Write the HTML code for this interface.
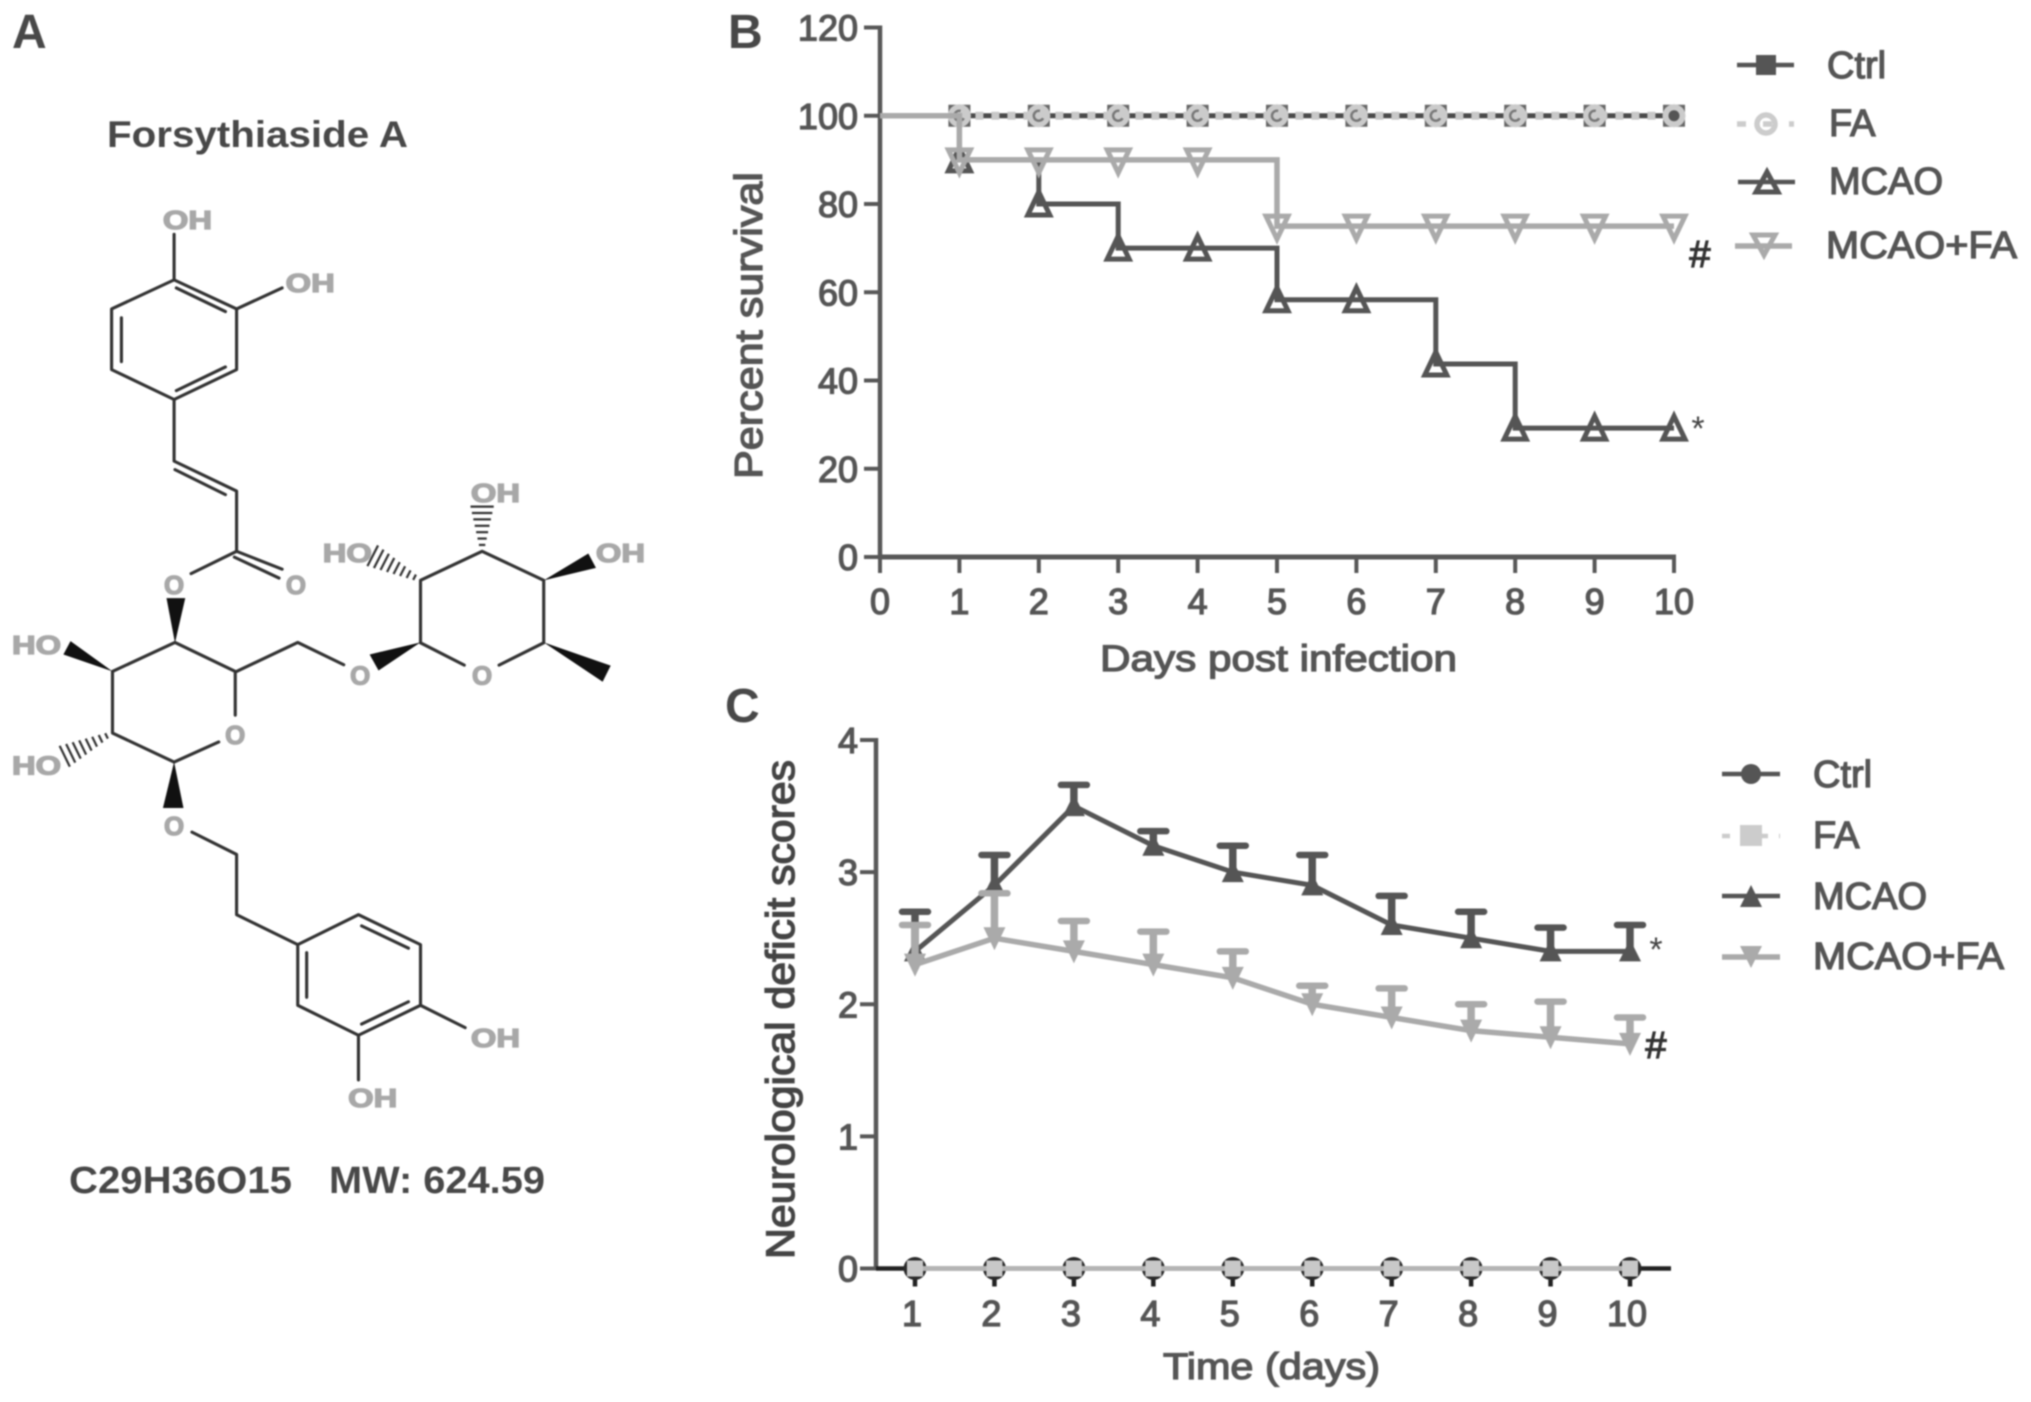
<!DOCTYPE html>
<html lang="en">
<head>
<meta charset="utf-8">
<title>Forsythiaside A figure</title>
<style>
html,body{margin:0;padding:0;background:#fff;}
svg{display:block;filter:blur(0.8px);}
text{font-family:"Liberation Sans",sans-serif;}
.heavy{font-weight:bold;fill:#484848;}
.mid{fill:#555;stroke:#555;stroke-width:1.3px;}
.atom{font-weight:bold;font-size:58px;fill:#a8a8a8;stroke:#a8a8a8;stroke-width:3px;text-anchor:middle;}
.bond{stroke:#333;stroke-width:7;fill:none;stroke-linecap:round;stroke-linejoin:round;}
.wedge{fill:#111;}
.sig{stroke:#333;stroke-width:1.2px;fill:#333;text-anchor:middle;}
.star{fill:#444;text-anchor:middle;}
</style>
</head>
<body>
<svg id="figure" xmlns="http://www.w3.org/2000/svg" width="2031" height="1402" viewBox="0 0 2031 1402">
<rect width="2031" height="1402" fill="#fff"/>
<text class="heavy" x="12" y="48" font-size="48">A</text>
<text class="heavy" x="728" y="48" font-size="48">B</text>
<text class="heavy" x="725" y="722" font-size="48">C</text>
<text class="heavy" x="107" y="147" font-size="37" textLength="301" lengthAdjust="spacingAndGlyphs">Forsythiaside A</text>
<text class="heavy" x="69" y="1193" font-size="38" textLength="223" lengthAdjust="spacingAndGlyphs">C29H36O15</text>
<text class="heavy" x="329" y="1193" font-size="38" textLength="216" lengthAdjust="spacingAndGlyphs">MW: 624.59</text>

<g id="mol-top" transform="scale(.4464)">
  <path class="bond" d="M390 627L530 692V828L390 895L250 828V692Z M272 712V810 M395 645L505 698 M395 875L505 822"/>
  <path class="bond" d="M390 627V525 M530 692L632 645"/>
  <path class="bond" d="M390 895V1033L530 1100V1235 M392 1052L505 1108 M530 1235L632 1275 M525 1248L625 1295 M530 1235L428 1285"/>
  <path class="bond" d="M1040 1490L942 1440V1300L1080 1235L1218 1300V1440L1118 1490"/>
  <polygon class="wedge" points="392,1440 373,1340 415,1340"/>
  <polygon class="wedge" points="1218,1300 1318,1240 1335,1272"/>
  <g id="hash-1"></g>
  <g id="hash-2"></g>
  <text class="atom" x="420" y="513" textLength="110" lengthAdjust="spacingAndGlyphs">OH</text>
  <text class="atom" x="695" y="654" textLength="110" lengthAdjust="spacingAndGlyphs">OH</text>
  <text class="atom" x="663" y="1331">O</text>
  <text class="atom" x="390" y="1331">O</text>
  <text class="atom" x="1110" y="1124" textLength="110" lengthAdjust="spacingAndGlyphs">OH</text>
  <text class="atom" x="778" y="1259" textLength="110" lengthAdjust="spacingAndGlyphs">HO</text>
  <text class="atom" x="1390" y="1259" textLength="110" lengthAdjust="spacingAndGlyphs">OH</text>
</g>
<g id="mol-bottom" transform="translate(0,600) scale(.4464)">
  <path class="bond" d="M527 258V160L392 95L252 160V298L390 363L490 318"/>
  <path class="bond" d="M530 160L667 95L770 145"/>
  <path class="bond" d="M430 520L530 570V705L667 772"/>
  <path class="bond" d="M667 772L803 705L942 772V908L803 975L667 908Z M687 790V890 M810 730L915 780 M810 950L915 900"/>
  <path class="bond" d="M942 908L1042 958 M803 975V1075"/>
  <polygon class="wedge" points="252,160 142,122 158,92"/>
  <polygon class="wedge" points="390,363 365,466 411,466"/>
  <polygon class="wedge" points="942,95 828,122 848,158"/>
  <polygon class="wedge" points="1218,95 1368,147 1350,183"/>
  <g id="hash-3"></g>
  <text class="atom" x="82" y="121" textLength="110" lengthAdjust="spacingAndGlyphs">HO</text>
  <text class="atom" x="807" y="189">O</text>
  <text class="atom" x="1080" y="189">O</text>
  <text class="atom" x="527" y="323">O</text>
  <text class="atom" x="82" y="391" textLength="110" lengthAdjust="spacingAndGlyphs">HO</text>
  <text class="atom" x="390" y="526">O</text>
  <text class="atom" x="1110" y="1001" textLength="110" lengthAdjust="spacingAndGlyphs">OH</text>
  <text class="atom" x="835" y="1136" textLength="110" lengthAdjust="spacingAndGlyphs">OH</text>
</g>

<g id="chart-b"></g>
<g id="chart-c"></g>

<text class="mid" x="1827" y="78" font-size="38">Ctrl</text>
<text class="mid" x="1829" y="136" font-size="38">FA</text>
<text class="mid" x="1829" y="194" font-size="38" textLength="114" lengthAdjust="spacingAndGlyphs">MCAO</text>
<text class="mid" x="1826" y="258" font-size="38" textLength="191" lengthAdjust="spacingAndGlyphs">MCAO+FA</text>
<text class="mid" x="1813" y="787" font-size="38">Ctrl</text>
<text class="mid" x="1813" y="848" font-size="38">FA</text>
<text class="mid" x="1813" y="909" font-size="38" textLength="114" lengthAdjust="spacingAndGlyphs">MCAO</text>
<text class="mid" x="1813" y="969" font-size="38" textLength="191" lengthAdjust="spacingAndGlyphs">MCAO+FA</text>

<g><line x1="1737" x2="1794" y1="65" y2="65" stroke="#555" stroke-width="4.5"/><rect x="1756" y="55" width="20" height="20" fill="#555"/></g>
<g><line x1="1737" x2="1794" y1="124" y2="124" stroke="#ccc" stroke-width="5.5" stroke-dasharray="9 17"/><circle cx="1766" cy="124" r="9" fill="none" stroke="#ccc" stroke-width="5.5"/></g>
<g><line x1="1738" x2="1795" y1="182" y2="182" stroke="#555" stroke-width="4.5"/><polygon points="1767,172 1756,192 1778,192" fill="none" stroke="#555" stroke-width="5"/></g>
<g><line x1="1735" x2="1792" y1="246" y2="246" stroke="#aaa" stroke-width="5.5"/><polygon points="1753,235 1775,235 1764,255" fill="none" stroke="#aaa" stroke-width="5"/></g>
<g><line x1="1722" x2="1780" y1="774" y2="774" stroke="#555" stroke-width="4.5"/><circle cx="1751" cy="774" r="10" fill="#555"/></g>
<g><line x1="1722" x2="1780" y1="836" y2="836" stroke="#ccc" stroke-width="4.5" stroke-dasharray="8 11"/><rect x="1740" y="825" width="22" height="21" fill="#ccc"/></g>
<g><line x1="1722" x2="1780" y1="896" y2="896" stroke="#555" stroke-width="4.5"/><polygon points="1751,885 1740,907 1762,907" fill="#555"/></g>
<g><line x1="1722" x2="1780" y1="957" y2="957" stroke="#aaa" stroke-width="5.5"/><polygon points="1740,946 1762,946 1751,968" fill="#aaa"/></g>

<text class="sig" x="1700" y="267" font-size="38">#</text>
<text class="star" x="1698" y="440" font-size="34">*</text>
<text class="star" x="1656" y="961" font-size="34">*</text>
<text class="sig" x="1656" y="1058" font-size="38">#</text>
</svg>

<script>
/* Panel B data */
const bDays = [0,1,2,3,4,5,6,7,8,9,10];
const bCtrl = [100,100,100,100,100,100,100,100,100,100,100];
const bFA = [100,100,100,100,100,100,100,100,100,100,100];
const bMCAO = [100,90,80,70,70,58.3,58.3,43.75,29.2,29.2,29.2];
const bMCAOFA = [100,90,90,90,90,75,75,75,75,75,75];
const bYTicks = [0,20,40,60,80,100,120];

/* Panel C data */
const cDays = [1,2,3,4,5,6,7,8,9,10];
const cCtrl = [0,0,0,0,0,0,0,0,0,0];
const cFA = [0,0,0,0,0,0,0,0,0,0];
const cMCAO = [2.4,2.9,3.5,3.2,3.0,2.9,2.6,2.5,2.4,2.4];
const cMCAOErr = [0.3,0.23,0.16,0.11,0.2,0.23,0.22,0.2,0.18,0.2];
const cMCAOFA = [2.3,2.5,2.4,2.3,2.2,2.0,1.9,1.8,1.75,1.7];
const cMCAOFAErr = [0.3,0.34,0.23,0.25,0.2,0.14,0.22,0.2,0.27,0.2];
const cYTicks = [0,1,2,3,4];

const NS = 'http://www.w3.org/2000/svg';
function el(tag, attrs, parent){
  const e = document.createElementNS(NS, tag);
  for (const k in attrs) e.setAttribute(k, attrs[k]);
  parent.appendChild(e);
  return e;
}

/* hashed stereo bonds */
function hash(id, x1, y1, x2, y2, n){
  const g = document.getElementById(id);
  const dx = x2-x1, dy = y2-y1, len = Math.hypot(dx,dy);
  for (let i=1;i<=n;i++){
    const t = i/n, w = 4 + t*22;
    const cx = x1+dx*t, cy = y1+dy*t;
    const ln = el('line',{x1:cx-dy/len*w,y1:cy+dx/len*w,x2:cx+dy/len*w,y2:cy-dx/len*w,stroke:'#333','stroke-width':5},g);
    
    
  }
}
hash('hash-1',1080,1235,1080,1135,7);
hash('hash-2',942,1300,835,1245,8);
hash('hash-3',252,298,145,350,8);

/* ---------- Panel B ---------- */
const bX = v => 880 + v*(1674-880)/10;
const bY = v => 557 - v*(557-27.5)/120;
const gB = document.getElementById('chart-b');
const AX = '#585858';

const bAxisY = el('line',{x1:bX(0),x2:bX(0),y1:bY(120)-2,y2:bY(0)+2,stroke:AX,'stroke-width':4.5},gB);


const bAxisX = el('line',{x1:bX(0),x2:bX(10)+2,y1:bY(0),y2:bY(0),stroke:AX,'stroke-width':5},gB);



bYTicks.forEach(v=>{
  const t = el('line',{x1:bX(0)-16,x2:bX(0),y1:bY(v),y2:bY(v),stroke:AX,'stroke-width':4},gB);
  
  
  const l = el('text',{x:858,y:bY(v)+13,'font-size':36,'text-anchor':'end',class:'mid'},gB);
  l.textContent = v;
  
  
});
bDays.forEach(v=>{
  const t = el('line',{x1:bX(v),x2:bX(v),y1:bY(0),y2:bY(0)+16,stroke:AX,'stroke-width':4},gB);
  
  
  const l = el('text',{x:bX(v),y:614,'font-size':36,'text-anchor':'middle',class:'mid'},gB);
  l.textContent = v;
  
  
});
const bXT = el('text',{x:1100,y:671,'font-size':37,textLength:357,lengthAdjust:'spacingAndGlyphs',class:'mid'},gB);
bXT.textContent = 'Days post infection';


const bYT = el('text',{x:0,y:0,'font-size':39,textLength:307,lengthAdjust:'spacingAndGlyphs',class:'mid',transform:'translate(762,479) rotate(-90)'},gB);
bYT.textContent = 'Percent survival';



function stepPath(vals, start){
  let d = 'M'+bX(bDays[start])+' '+bY(vals[start]);
  for (let i=start+1;i<vals.length;i++) d += 'H'+bX(bDays[i])+'V'+bY(vals[i]);
  return d;
}
const lineCtrl = el('path',{d:stepPath(bCtrl,1),fill:'none',stroke:'#4a4a4a','stroke-width':5},gB);


bDays.slice(1).forEach((d,i)=>{
  const m = el('rect',{x:bX(d)-11,y:bY(bCtrl[i+1])-11,width:22,height:22,fill:'#666'},gB);
  
  
});
const lineFA = el('path',{d:stepPath(bFA,1),fill:'none',stroke:'#c8c8c8','stroke-width':8,'stroke-dasharray':'8 8'},gB);


bDays.slice(1).forEach((d,i)=>{
  const y = bY(bFA[i+1]);
  const m = el('circle',{cx:bX(d),cy:y,r:11.5,fill:'#cbcbcb'},gB);
  
  
  const c = d===10
    ? el('circle',{cx:bX(d),cy:y,r:5.5,fill:'#555'},gB)
    : el('circle',{cx:bX(d),cy:y,r:5,fill:'none',stroke:'#777','stroke-width':2.5,'stroke-dasharray':'22 10',transform:'rotate(30 '+bX(d)+' '+y+')'},gB);
  
  
});
const lineMC = el('path',{d:stepPath(bMCAO,0),fill:'none',stroke:'#555','stroke-width':5},gB);


bDays.slice(1).forEach((d,i)=>{
  const x = bX(d), y = bY(bMCAO[i+1]);
  const m = el('polygon',{points:[x,y-12,x-11,y+11,x+11,y+11].join(' '),fill:'none',stroke:'#555','stroke-width':5},gB);
  
  
});
const lineMF = el('path',{d:stepPath(bMCAOFA,0),fill:'none',stroke:'#aaa','stroke-width':5.5},gB);


bDays.slice(1).forEach((d,i)=>{
  const x = bX(d), y = bY(bMCAOFA[i+1]);
  const m = el('polygon',{points:[x-11,y-10,x+11,y-10,x,y+13].join(' '),fill:'none',stroke:'#aaa','stroke-width':5},gB);
  
  
});

/* ---------- Panel C ---------- */
const cX = v => 915 + (v-1)*(1630-915)/9;
const cY = v => 1268.5 - v*(1268.5-740)/4;
const gC = document.getElementById('chart-c');

const cAxisY = el('line',{x1:876,x2:876,y1:cY(4)-2,y2:cY(0)+2,stroke:AX,'stroke-width':4.5},gC);


const cAxisX = el('line',{x1:876,x2:1671,y1:cY(0),y2:cY(0),stroke:'#222','stroke-width':4.5},gC);



cYTicks.forEach(v=>{
  const t = el('line',{x1:860,x2:876,y1:cY(v),y2:cY(v),stroke:AX,'stroke-width':4},gC);
  
  
  const l = el('text',{x:858,y:cY(v)+13,'font-size':36,'text-anchor':'end',class:'mid'},gC);
  l.textContent = v;
  
  
});
cDays.forEach(v=>{
  const t = el('line',{x1:cX(v),x2:cX(v),y1:cY(0),y2:cY(0)+18,stroke:'#222','stroke-width':4.5},gC);
  
  
  const l = el('text',{x:cX(v)-3,y:1326,'font-size':36,'text-anchor':'middle',class:'mid'},gC);
  l.textContent = v;
  
  
});
const cXT = el('text',{x:1163,y:1379,'font-size':37,textLength:217,lengthAdjust:'spacingAndGlyphs',class:'mid'},gC);
cXT.textContent = 'Time (days)';


const cYT = el('text',{x:0,y:0,'font-size':40,textLength:499,lengthAdjust:'spacingAndGlyphs',fill:'#444',stroke:'#444','stroke-width':1.3,transform:'translate(794,1259) rotate(-90)'},gC);
cYT.textContent = 'Neurological deficit scores';



function polyPts(vals){ return vals.map((v,i)=>cX(cDays[i])+','+cY(v)).join(' '); }

/* Ctrl */
const cLineCtrl = el('polyline',{points:polyPts(cCtrl),fill:'none',stroke:'#444','stroke-width':4.5},gC);


cDays.forEach((d,i)=>{
  const m = el('circle',{cx:cX(d),cy:cY(cCtrl[i]),r:11.5,fill:'#2a2a2a'},gC);
  
  
});
/* MCAO */
cDays.forEach((d,i)=>{
  const x=cX(d), top=cY(cMCAO[i]+cMCAOErr[i]);
  const v = el('line',{x1:x,x2:x,y1:cY(cMCAO[i]),y2:top,stroke:'#555','stroke-width':7.5},gC);
  
  
  const c = el('line',{x1:x-13,x2:x+13,y1:top,y2:top,stroke:'#555','stroke-width':6.5,'stroke-linecap':'round'},gC);
  
  
});
const cLineMC = el('polyline',{points:polyPts(cMCAO),fill:'none',stroke:'#555','stroke-width':5},gC);


cDays.forEach((d,i)=>{
  const x=cX(d), y=cY(cMCAO[i]);
  const m = el('polygon',{points:[x,y-12,x-11,y+10,x+11,y+10].join(' '),fill:'#555'},gC);
  
  
});
/* MCAO+FA */
cDays.forEach((d,i)=>{
  const x=cX(d), top=cY(cMCAOFA[i]+cMCAOFAErr[i]);
  const v = el('line',{x1:x,x2:x,y1:cY(cMCAOFA[i]),y2:top,stroke:'#aaa','stroke-width':7.5},gC);
  
  
  const c = el('line',{x1:x-13,x2:x+13,y1:top,y2:top,stroke:'#aaa','stroke-width':6.5,'stroke-linecap':'round'},gC);
  
  
});
const cLineMF = el('polyline',{points:polyPts(cMCAOFA),fill:'none',stroke:'#aaa','stroke-width':5.5},gC);


cDays.forEach((d,i)=>{
  const x=cX(d), y=cY(cMCAOFA[i]);
  const m = el('polygon',{points:[x-11,y-11,x+11,y-11,x,y+12].join(' '),fill:'#aaa'},gC);
  
  
});
/* FA on top at the baseline */
const cLineFA = el('polyline',{points:polyPts(cFA),fill:'none',stroke:'#b4b4b4','stroke-width':5},gC);


cDays.forEach((d,i)=>{
  const m = el('rect',{x:cX(d)-8,y:cY(cFA[i])-8,width:16,height:16,fill:'#c8c8c8'},gC);
  
  
});
</script>
</body>
</html>
